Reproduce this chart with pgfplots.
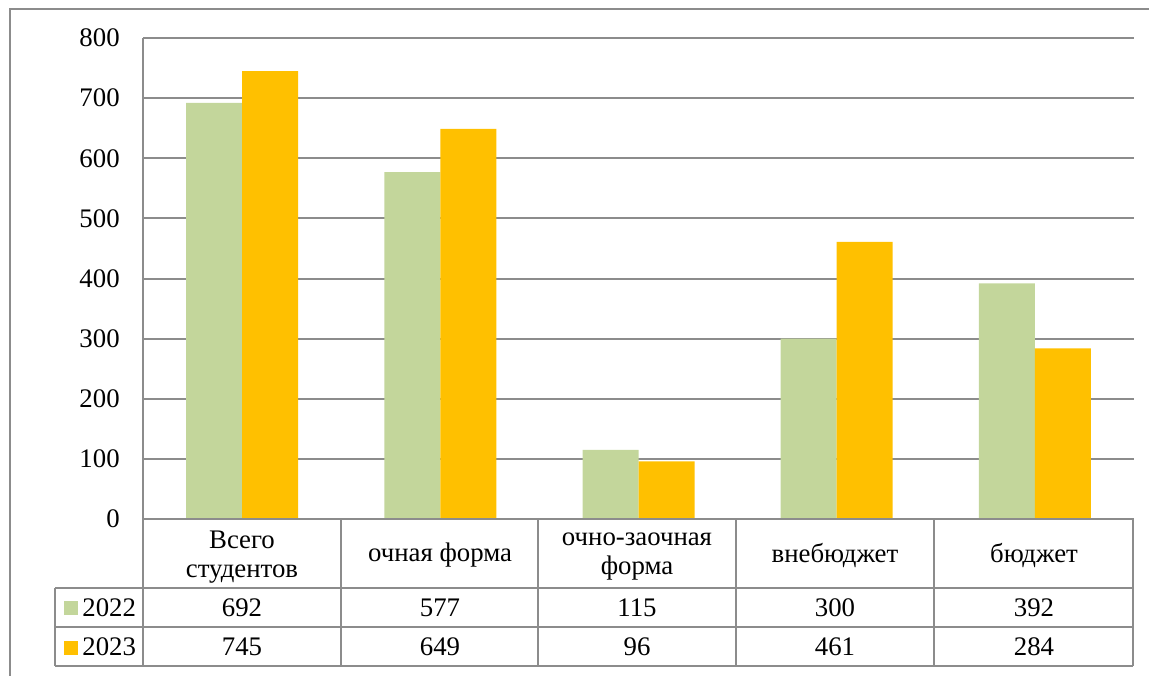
\documentclass[border=0pt]{standalone}
\usepackage{fontspec}
\setmainfont{Liberation Serif}
\usepackage{pgfplots}
\pgfplotsset{compat=1.18}
\definecolor{cgreen}{HTML}{C3D69B}
\definecolor{corange}{HTML}{FFC000}
\definecolor{cgrid}{HTML}{8C8C8C}
\newcommand\tf{\fontsize{13.4}{14.5}\selectfont}
\begin{document}
\begin{tikzpicture}
\path[use as bounding box] (0,0) rectangle (574.5pt,-337.5pt);
\clip (0,0) rectangle (574.5pt,-337.5pt);
\begin{axis}[
    at={(71.5pt,-259.5pt)}, anchor=south west,
    scale only axis, width=495.5pt, height=240.5pt,
    ymin=0, ymax=800, ytick={0,100,...,800},
    xmin=-0.5, xmax=4.5, xtick=\empty,
    axis x line=none, axis y line=left,
    y axis line style={-, cgrid, line width=1pt},
    ymajorgrids, grid style={cgrid, line width=1pt},
    ytick style={draw=none},
    yticklabel style={font=\tf, xshift=-6pt},
    /pgf/number format/assume math mode=true,
    ybar, bar width=28pt,
    clip=false,
]
\addplot[fill=cgreen, draw=none, bar shift=-14pt]
    coordinates {(0,692) (1,577) (2,115) (3,300) (4,392)};
\addplot[fill=corange, draw=none, bar shift=14pt]
    coordinates {(0,745) (1,649) (2,96) (3,461) (4,284)};
\end{axis}
% data table under the chart
\begin{scope}[x=0.5pt,y=-0.5pt, every node/.style={font=\tf, align=center}]
\draw[cgrid, line width=1pt] (10,700) -- (10,9) -- (1160,9);
\draw[cgrid, line width=1pt] (143,519) -- (1133,519);
\foreach \y in {588,627,666} \draw[cgrid, line width=1pt] (55,\y) -- (1133,\y);
\draw[cgrid, line width=1pt] (55,588) -- (55,666);
\foreach \x in {143,341,538,736,934,1133} \draw[cgrid, line width=1pt] (\x,519) -- (\x,666);
\node at (242,557) {Всего\\студентов};
\node at (440,555) {очная форма};
\node at (637,557) {очно-заочная\\форма};
\node at (835,555) {внебюджет};
\node at (1034,555) {бюджет};
\fill[cgreen] (64,601) rectangle (78,615);
\fill[corange] (64,641) rectangle (78,655);
\node[anchor=west, inner sep=0pt] at (82,608) {2022};
\node[anchor=west, inner sep=0pt] at (82,647) {2023};
\foreach \x/\a/\b in {242/692/745, 440/577/649, 637/115/96, 835/300/461, 1034/392/284} {
  \node at (\x,608) {\a};
  \node at (\x,647) {\b};
}
\end{scope}
\end{tikzpicture}
\end{document}
